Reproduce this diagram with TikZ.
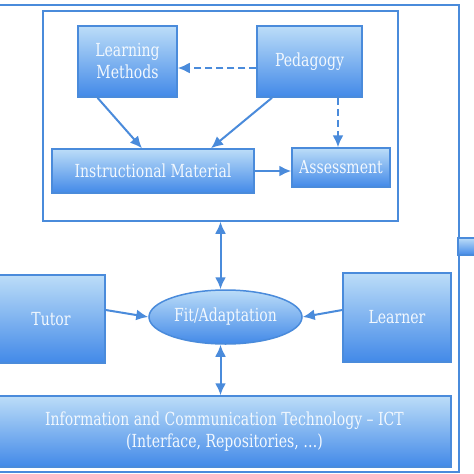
\documentclass[tikz,border=0pt]{standalone}
\usepackage{fontspec}
\setmainfont{DejaVu Serif}[FakeStretch=0.78]
\usetikzlibrary{arrows.meta, calc, positioning, shapes.geometric}
\definecolor{boxline}{HTML}{4A8BDB}
\definecolor{boxtop}{HTML}{BCDDF8}
\definecolor{boxbottom}{HTML}{4289E8}
\definecolor{boxtext}{HTML}{F2F8FE}
\tikzset{
>={Latex[length=12pt,width=11pt]}, % filled triangular heads
every node/.style={inner sep=1pt},
block/.style={draw=boxline, line width=1.5pt, top color=boxtop, bottom color=boxbottom,
  text=boxtext, font=\fontsize{18}{22}\selectfont, align=center}, % shaded boxes
frame/.style={draw=boxline, line width=1.5pt}, % plain outlines
link/.style={->, draw=boxline, line width=2pt},
dashlink/.style={link, dash pattern=on 7pt off 4pt},
}
\begin{document}
\begin{tikzpicture}[x=1pt,y=-1pt]
  \clip (0,0) rectangle (474,474);
  \fill[white] (0,0) rectangle (474,474);
  % outer frame and the box cut off at the right
  \node[frame, minimum width=469pt, minimum height=467pt] (outer) at (224.5,238.5) {};
  \node[block, minimum width=40pt, minimum height=17pt] (side) at (478,246.5) {};
  % course design
  \node[frame, minimum width=355pt, minimum height=210pt] (course) at (220.5,116) {};
  \node[block, minimum width=99pt, minimum height=71pt] (methods) at (127.5,61.5) {Learning\\Methods};
  \node[block, minimum width=105pt, minimum height=71pt] (pedagogy) at (309.5,61.5) {Pedagogy};
  \node[block, minimum width=202pt, minimum height=44pt] (material) at (153,171) {Instructional Material};
  \node[block, minimum width=98pt, minimum height=39pt] (assess) at (341,167.5) {Assessment};
  % actors
  \node[ellipse, block, minimum width=153pt, minimum height=54pt] (fit) at (225.5,317) {Fit/Adaptation};
  \node[block, minimum width=108pt, minimum height=88pt] (tutor) at (51,319) {Tutor};
  \node[block, minimum width=108pt, minimum height=89pt] (learner) at (397,317.5) {Learner};
  \node[block, minimum width=453pt, minimum height=71pt] (ict) at (224.5,431.5)
    {Information and Communication Technology -- ICT\\(Interface, Repositories, \dots)};

  \draw[dashlink] ($(pedagogy.west)+(0,6.5)$) -- ($(methods.east)+(0,6.5)$);
  \draw[dashlink] ($(pedagogy.south)+(28.5,0)$) coordinate (p1) -- (p1 |- assess.north);
  \draw[link] ($(methods.south)+(-30,0)$) -- ($(material.north)+(-11,0)$);
  \draw[link] ($(pedagogy.south)+(-37.5,0)$) -- ($(material.north)+(58,0)$);
  \draw[link] (material.east) -- (material.east -| assess.west);
  \draw[link, <->] (course.south) -- (course.south |- fit.north);
  \draw[link] ($(tutor.east)+(0,-9)$) -- (fit.west);
  \draw[link] ($(learner.west)+(0,-7.5)$) -- (fit.east);
  \draw[link, <->] (course.south |- fit.south) -- (course.south |- ict.north);
\end{tikzpicture}
\end{document}
